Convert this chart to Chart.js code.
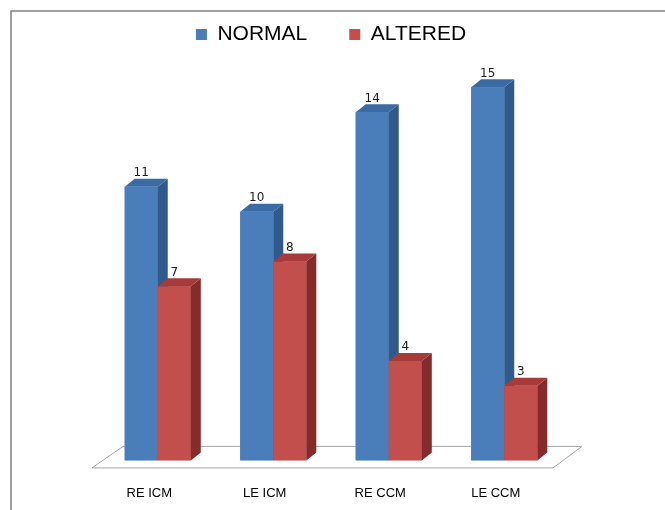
<!DOCTYPE html>
<html>
<head>
<meta charset="utf-8">
<script src="https://cdn.jsdelivr.net/npm/chart.js@4/dist/chart.umd.min.js"></script>
<style>
  html, body { margin: 0; padding: 0; background: #ffffff; }
  #wrap { width: 665px; height: 510px; position: relative; }
</style>
</head>
<body>
<div id="wrap"><canvas id="chart" width="665" height="510"></canvas></div>
<script>
// Eye-wise counts of normal vs altered findings
const categories = ['RE ICM', 'LE ICM', 'RE CCM', 'LE CCM'];
const normalCounts = [11, 10, 14, 15];
const alteredCounts = [7, 8, 4, 3];
const seriesNames = ['NORMAL', 'ALTERED'];

// face colours: front, side, top
const palette = [
  { front: '#4a7ebb', side: '#2f5a8b', top: '#3b6ba5' },
  { front: '#c24f4c', side: '#862b2a', top: '#a63b39' }
];

const DEPTH_X = 10;
const DEPTH_Y = 8;

// outer frame lines (top and left edges)
const framePlugin = {
  id: 'frame',
  beforeDraw(chart) {
    const ctx = chart.ctx;
    ctx.save();
    ctx.strokeStyle = '#808080';
    ctx.lineWidth = 1.5;
    ctx.beginPath();
    ctx.moveTo(11, chart.height);
    ctx.lineTo(11, 11);
    ctx.lineTo(chart.width, 11);
    ctx.stroke();
    ctx.restore();
  }
};

// floor plane under the bars
const floorPlugin = {
  id: 'floor',
  beforeDatasetsDraw(chart) {
    const { left, right, bottom } = chart.chartArea;
    const ctx = chart.ctx;
    ctx.save();
    ctx.strokeStyle = '#a6a6a6';
    ctx.lineWidth = 1;
    ctx.beginPath();
    ctx.moveTo(left + 23, bottom - 14);
    ctx.lineTo(right + 20, bottom - 14);
    ctx.lineTo(right - 9, bottom + 7.5);
    ctx.lineTo(left - 8, bottom + 7.5);
    ctx.closePath();
    ctx.fillStyle = '#ffffff';
    ctx.fill();
    ctx.stroke();
    ctx.restore();
  }
};

// side and top faces plus value labels for each bar
const bar3dPlugin = {
  id: 'bar3d',
  afterDatasetsDraw(chart) {
    const ctx = chart.ctx;
    const metas = chart.data.datasets.map((_, i) => chart.getDatasetMeta(i));
    ctx.save();
    for (let i = 0; i < categories.length; i++) {
      metas.forEach((meta, d) => {
        const el = meta.data[i];
        const { x, y, base, width } = el.getProps(['x', 'y', 'base', 'width'], true);
        const x1 = x - width / 2;
        const x2 = x + width / 2;
        const c = palette[d];
        // front face (redrawn so it covers the neighbour's side face)
        ctx.fillStyle = c.front;
        ctx.fillRect(x1, y, width, base - y);
        // side face
        ctx.fillStyle = c.side;
        ctx.beginPath();
        ctx.moveTo(x2, y);
        ctx.lineTo(x2 + DEPTH_X, y - DEPTH_Y);
        ctx.lineTo(x2 + DEPTH_X, base - DEPTH_Y);
        ctx.lineTo(x2, base);
        ctx.closePath();
        ctx.fill();
        // top face
        ctx.fillStyle = c.top;
        ctx.beginPath();
        ctx.moveTo(x1, y);
        ctx.lineTo(x1 + DEPTH_X, y - DEPTH_Y);
        ctx.lineTo(x2 + DEPTH_X, y - DEPTH_Y);
        ctx.lineTo(x2, y);
        ctx.closePath();
        ctx.fill();
        // value label
        const value = chart.data.datasets[d].data[i];
        ctx.fillStyle = '#1a1a1a';
        ctx.font = '12px "DejaVu Sans"';
        ctx.textAlign = 'center';
        ctx.textBaseline = 'alphabetic';
        ctx.fillText(String(value), x, y - 10.5);
      });
    }
    ctx.restore();
  }
};

new Chart(document.getElementById('chart'), {
  type: 'bar',
  data: {
    labels: categories,
    datasets: [
      {
        label: seriesNames[0],
        data: normalCounts,
        backgroundColor: palette[0].front,
        borderWidth: 0,
        categoryPercentage: 0.572,
        barPercentage: 1
      },
      {
        label: seriesNames[1],
        data: alteredCounts,
        backgroundColor: palette[1].front,
        borderWidth: 0,
        categoryPercentage: 0.572,
        barPercentage: 1
      }
    ]
  },
  options: {
    responsive: false,
    animation: false,
    layout: { padding: { top: -18, left: 100, right: 103, bottom: -16 } },
    plugins: {
      legend: {
        position: 'top',
        labels: {
          boxWidth: 11,
          boxHeight: 11,
          padding: 42,
          color: '#000000',
          font: { family: '"Liberation Sans", Arial, sans-serif', size: 21 }
        }
      },
      tooltip: { enabled: false }
    },
    scales: {
      x: {
        grid: { display: false, drawTicks: false },
        border: { display: false },
        ticks: {
          padding: 25,
          labelOffset: -8.5,
          color: '#000000',
          font: { family: '"Liberation Sans", Arial, sans-serif', size: 13 }
        }
      },
      y: {
        display: false,
        min: 0,
        max: 16.3
      }
    }
  },
  plugins: [framePlugin, floorPlugin, bar3dPlugin]
});
</script>
</body>
</html>
